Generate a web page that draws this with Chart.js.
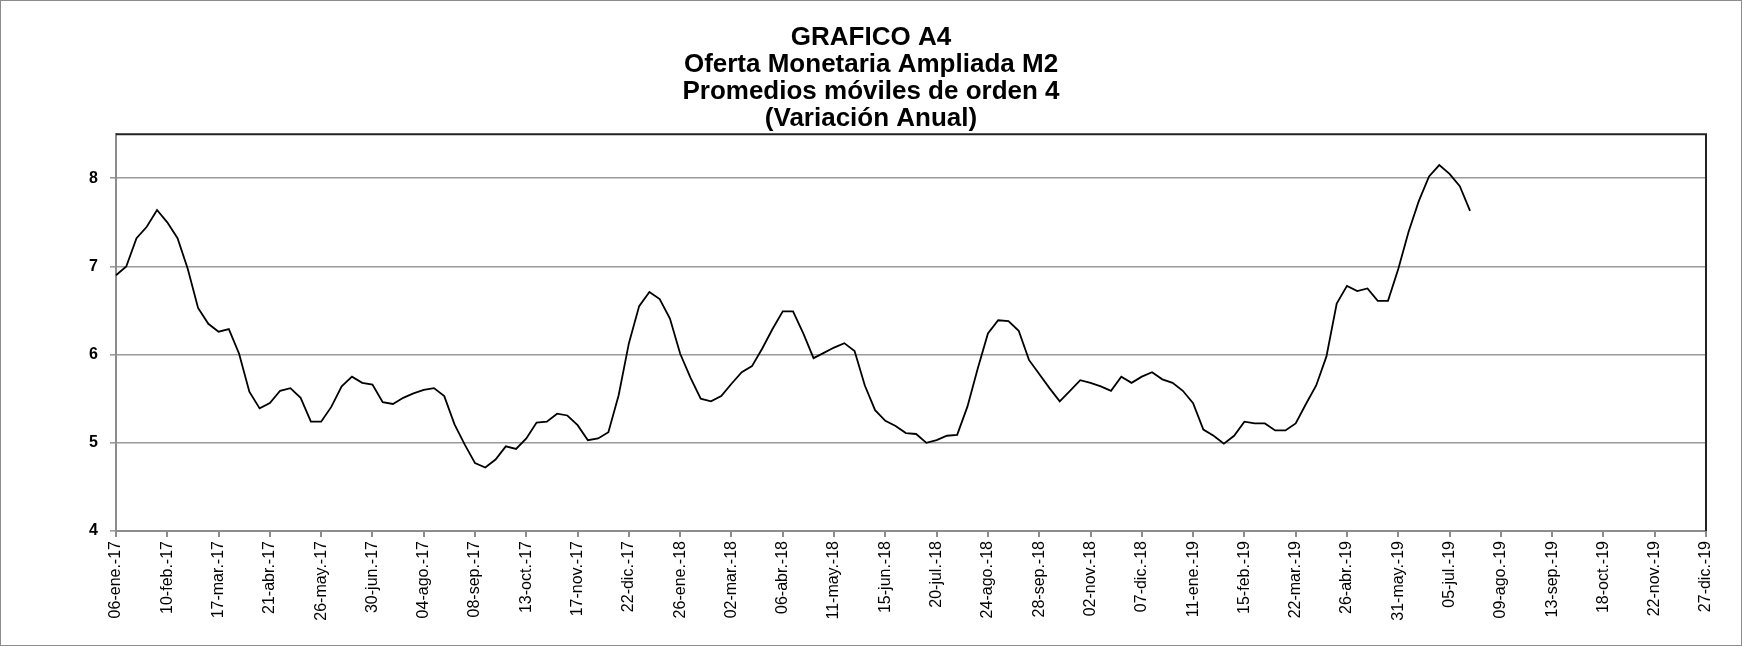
<!DOCTYPE html>
<html>
<head>
<meta charset="utf-8">
<script src="https://cdn.jsdelivr.net/npm/chart.js@4/dist/chart.umd.min.js"></script>
<style>
  body { margin: 0; background: #fff; }
  canvas { display: block; }
</style>
</head>
<body>
<canvas id="m2Chart" width="1742" height="646"></canvas>
<script>
// serie semanal desde el 06-ene-17 (viernes)
const startDate = new Date(2017, 0, 6);
const totalWeeks = 156;
const monthNames = ['ene.', 'feb.', 'mar.', 'abr.', 'may.', 'jun.', 'jul.', 'ago.', 'sep.', 'oct.', 'nov.', 'dic.'];
const labelEvery = 5;

const yTicks = [4, 5, 6, 7, 8];

// variación anual M2, promedio móvil de orden 4
const m2Values = [
    6.90, 7.00, 7.32, 7.45, 7.64, 7.50, 7.32, 6.97, 6.53, 6.35,
    6.26, 6.29, 6.01, 5.58, 5.39, 5.45, 5.59, 5.62, 5.51, 5.24,
    5.24, 5.41, 5.64, 5.75, 5.68, 5.66, 5.46, 5.44, 5.51, 5.56,
    5.60, 5.62, 5.53, 5.21, 4.98, 4.77, 4.72, 4.81, 4.96, 4.93,
    5.05, 5.23, 5.24, 5.33, 5.31, 5.20, 5.03, 5.05, 5.12, 5.54,
    6.13, 6.55, 6.71, 6.63, 6.41, 6.01, 5.74, 5.50, 5.47, 5.53,
    5.67, 5.80, 5.87, 6.07, 6.29, 6.49, 6.49, 6.24, 5.96, 6.02,
    6.08, 6.13, 6.04, 5.65, 5.37, 5.25, 5.19, 5.11, 5.10, 5.00,
    5.03, 5.08, 5.09, 5.41, 5.84, 6.24, 6.39, 6.38, 6.27, 5.94,
    5.78, 5.62, 5.47, 5.59, 5.71, 5.68, 5.64, 5.59, 5.75, 5.68,
    5.75, 5.80, 5.72, 5.68, 5.59, 5.45, 5.15, 5.08, 4.99, 5.08,
    5.24, 5.22, 5.22, 5.14, 5.14, 5.22, 5.44, 5.65, 5.98, 6.58,
    6.78, 6.72, 6.75, 6.61, 6.61, 6.97, 7.39, 7.74, 8.02, 8.15,
    8.05, 7.91, 7.63
];

const titleLines = [
    'GRAFICO A4',
    'Oferta Monetaria Ampliada M2',
    'Promedios móviles de orden 4',
    '(Variación Anual)'
];

function fmtDate(d) {
    const dd = String(d.getDate()).padStart(2, '0');
    const yy = String(d.getFullYear()).slice(2);
    return dd + '-' + monthNames[d.getMonth()] + '-' + yy;
}

const weekLabels = [];
for (let i = 0; i < totalWeeks; i++) {
    const d = new Date(startDate);
    d.setDate(d.getDate() + 7 * i);
    weekLabels.push(fmtDate(d));
}

const FONT = '"Liberation Sans", Arial, sans-serif';

// borde superior/derecho del área de trazado y marco exterior
const frameBorders = {
    id: 'frameBorders',
    afterDraw(chart) {
        const { ctx, chartArea: a } = chart;
        ctx.save();
        ctx.strokeStyle = '#222';
        ctx.lineWidth = 2;
        ctx.beginPath();
        ctx.moveTo(a.left, a.top);
        ctx.lineTo(a.right, a.top);
        ctx.lineTo(a.right, a.bottom);
        ctx.stroke();
        ctx.strokeStyle = '#8c8c8c';
        ctx.lineWidth = 1;
        ctx.strokeRect(0.5, 0.5, chart.width - 1, chart.height - 1);
        ctx.restore();
    }
};

const ctx = document.getElementById('m2Chart').getContext('2d');
const m2Chart = new Chart(ctx, {
    type: 'line',
    data: {
        labels: weekLabels,
        datasets: [{
            label: 'M2',
            data: m2Values,
            borderColor: '#000',
            borderWidth: 1.8,
            pointRadius: 0,
            tension: 0,
            fill: false
        }]
    },
    options: {
        responsive: false,
        animation: false,
        layout: {
            padding: { top: 24, right: 36, left: 36, bottom: 0 }
        },
        scales: {
            x: {
                offset: false,
                afterFit: (scale) => { scale.height = 115; },
                border: { color: '#8c8c8c', width: 2 },
                grid: {
                    drawOnChartArea: false,
                    drawTicks: true,
                    tickLength: 6,
                    lineWidth: 2,
                    color: (c) => (c.index % labelEvery === 0 ? '#8c8c8c' : 'rgba(0,0,0,0)')
                },
                ticks: {
                    autoSkip: false,
                    maxRotation: 90,
                    minRotation: 90,
                    padding: 4,
                    color: '#000',
                    font: { family: FONT, size: 16 },
                    callback: function(value, index) {
                        return index % labelEvery === 0 ? this.getLabelForValue(value) : '';
                    }
                }
            },
            y: {
                min: 4,
                max: 8.5,
                afterFit: (scale) => { scale.width = 80; },
                afterBuildTicks: (scale) => {
                    scale.ticks = yTicks.map(v => ({ value: v }));
                },
                border: { color: '#8c8c8c', width: 2 },
                grid: {
                    color: '#9a9a9a',
                    lineWidth: 1.6,
                    tickLength: 6
                },
                ticks: {
                    padding: 12,
                    color: '#000',
                    font: { family: FONT, size: 16, weight: 'bold' }
                }
            }
        },
        plugins: {
            legend: { display: false },
            tooltip: { enabled: false },
            title: {
                display: true,
                text: titleLines,
                color: '#000',
                font: { family: FONT, size: 26, weight: 'bold', lineHeight: 1.04 },
                padding: { top: 0, bottom: 2 }
            }
        }
    },
    plugins: [frameBorders]
});
</script>
</body>
</html>
